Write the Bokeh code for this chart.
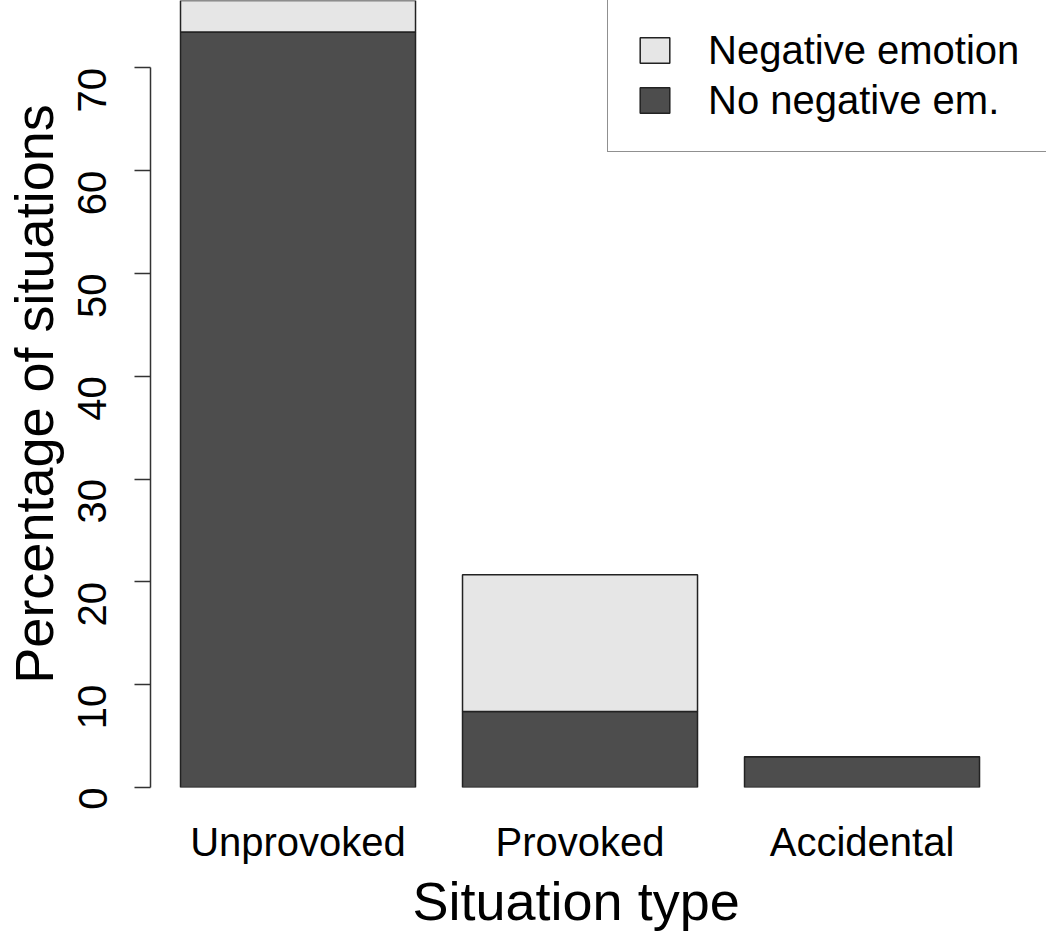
import math
from bokeh.plotting import figure
from bokeh.models import (ColumnDataSource, Range1d, FixedTicker, Legend, LegendItem, Title)
from bokeh.embed import file_html
from bokeh.resources import INLINE

# ---- data ----
categories = ["Unprovoked", "Provoked", "Accidental"]
no_negative = [73.5, 7.4, 3.0]      # dark segment (bottom)
negative = [3.1, 13.3, 0.0]         # light segment (top)
y_ticks = [0, 10, 20, 30, 40, 50, 60, 70]

series_names = ["Negative emotion", "No negative em."]
x_title = "Situation type"
y_title = "Percentage of situations"
dark = "#4D4D4D"
light = "#E6E6E6"

# R barplot positions: width 1, space 0.2
x_pos = [0.7 + 1.2 * i for i in range(len(categories))]

src = ColumnDataSource(dict(x=x_pos, no_neg=no_negative, neg=negative,
                            cat=categories))

FONT = "Liberation Sans"

p = figure(width=1050, height=935, output_backend="svg", toolbar_location=None,
           x_range=Range1d(0.0723, 3.885), y_range=Range1d(0, 76.56),
           min_border_left=150, min_border_right=4, min_border_top=0,
           min_border_bottom=148)
p.outline_line_color = None
p.xgrid.visible = False
p.ygrid.visible = False
p.background_fill_color = "white"
p.border_fill_color = "white"

rs = p.vbar_stack(["no_neg", "neg"], x="x", width=1.0, source=src,
                  fill_color=[dark, light], line_color="#222222", line_width=1.5)

# y axis
ya = p.yaxis[0]
ya.ticker = FixedTicker(ticks=y_ticks)
ya.bounds = (0, 70)
ya.major_tick_in = 0
ya.major_tick_out = 16
ya.minor_tick_line_color = None
ya.axis_line_color = "#333333"
ya.axis_line_width = 1.5
ya.major_tick_line_color = "#333333"
ya.major_tick_line_width = 1.5
ya.major_label_orientation = math.pi / 2
ya.major_label_text_font = FONT
ya.major_label_text_font_size = "40px"
ya.major_label_text_color = "black"
ya.major_label_standoff = 42
ya.axis_label = y_title
ya.axis_label_text_font = FONT
ya.axis_label_text_font_size = "54px"
ya.axis_label_text_font_style = "normal"
ya.axis_label_text_color = "black"
ya.axis_label_standoff = -2

# x axis
xa = p.xaxis[0]
xa.ticker = FixedTicker(ticks=x_pos)
xa.major_label_overrides = {x: c for x, c in zip(x_pos, categories)}
xa.axis_line_color = None
xa.major_tick_line_color = None
xa.minor_tick_line_color = None
xa.major_tick_in = 0
xa.major_tick_out = 0
xa.major_label_text_font = FONT
xa.major_label_text_font_size = "40px"
xa.major_label_text_color = "black"
xa.major_label_standoff = 32

# x title, centred under the bar group as in the original
p.add_layout(Title(text=x_title, align="left", offset=262, standoff=5,
                   text_font=FONT, text_font_size="54px",
                   text_font_style="normal", text_color="black"), "below")

legend = Legend(items=[LegendItem(label=series_names[0], renderers=[rs[1]]),
                       LegendItem(label=series_names[1], renderers=[rs[0]])],
                location=(457, 635))
legend.border_line_color = "#222222"
legend.border_line_width = 1.5
legend.background_fill_alpha = 1.0
legend.padding = 28
legend.margin = 0
legend.glyph_width = 37
legend.glyph_height = 32
legend.label_standoff = 35
legend.label_height = 46
legend.spacing = 4
legend.label_text_font = FONT
legend.label_text_font_size = "40px"
legend.label_text_color = "black"
p.add_layout(legend, "center")

open("out.html", "w").write(file_html(p, INLINE))
